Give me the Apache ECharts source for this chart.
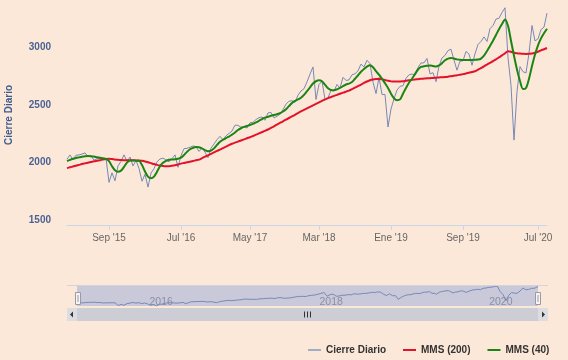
<!DOCTYPE html>
<html><head><meta charset="utf-8">
<script src="https://cdn.jsdelivr.net/npm/echarts@6/dist/echarts.min.js"></script>
<style>html,body{margin:0;padding:0;background:#fce8d8;}#c{width:568px;height:360px;}</style>
</head><body><div id="c"></div>
<script>
const categories = [
'2015-03-08','2015-03-20','2015-04-02','2015-04-15','2015-04-27','2015-05-10','2015-05-23','2015-06-04','2015-06-17','2015-06-30',
'2015-07-12','2015-07-25','2015-08-07','2015-08-19','2015-09-01','2015-09-14','2015-09-26','2015-10-09','2015-10-22','2015-11-03',
'2015-11-16','2015-11-29','2015-12-11','2015-12-24','2016-01-06','2016-01-18','2016-01-31','2016-02-13','2016-02-25','2016-03-09',
'2016-03-22','2016-04-03','2016-04-16','2016-04-29','2016-05-11','2016-05-24','2016-06-06','2016-06-18','2016-07-01','2016-07-14',
'2016-07-27','2016-08-10','2016-08-23','2016-09-05','2016-09-18','2016-10-02','2016-10-15','2016-10-28','2016-11-10','2016-11-23',
'2016-12-07','2016-12-20','2017-01-02','2017-01-15','2017-01-28','2017-02-11','2017-02-24','2017-03-09','2017-03-22','2017-04-05',
'2017-04-18','2017-05-01','2017-05-14','2017-05-27','2017-06-10','2017-06-23','2017-07-06','2017-07-19','2017-08-02','2017-08-15',
'2017-08-28','2017-09-10','2017-09-23','2017-10-07','2017-10-20','2017-11-02','2017-11-15','2017-11-28','2017-12-12','2017-12-25',
'2018-01-07','2018-01-20','2018-02-03','2018-02-16','2018-03-01','2018-03-14','2018-03-27','2018-04-08','2018-04-21','2018-05-04',
'2018-05-17','2018-05-29','2018-06-11','2018-06-24','2018-07-07','2018-07-19','2018-08-01','2018-08-14','2018-08-27','2018-09-08',
'2018-09-21','2018-10-04','2018-10-17','2018-10-29','2018-11-11','2018-11-24','2018-12-07','2018-12-19','2019-01-01','2019-01-11',
'2019-01-21','2019-01-31','2019-02-11','2019-02-21','2019-03-03','2019-03-13','2019-03-23','2019-04-02','2019-04-12','2019-04-22',
'2019-05-03','2019-05-13','2019-05-23','2019-06-02','2019-06-12','2019-06-22','2019-07-02','2019-07-12','2019-07-23','2019-08-02',
'2019-08-12','2019-08-22','2019-09-01','2019-09-13','2019-09-25','2019-10-07','2019-10-20','2019-11-01','2019-11-13','2019-11-25',
'2019-12-07','2019-12-19','2020-01-01','2020-01-13','2020-01-25','2020-02-06','2020-02-18','2020-03-01','2020-03-14','2020-03-26',
'2020-04-07','2020-04-19','2020-05-01','2020-05-13','2020-05-26','2020-06-07','2020-06-19','2020-07-01','2020-07-14','2020-07-28',
'2020-08-11'];

const cierre = [
2071,2108,2067,2106,2108,2116,2126,2095,2100,2063,
2076,2079,2078,2079,1870,1953,1884,2014,2052,2109,
2053,2090,2012,2061,1990,1880,1940,1829,1951,1989,
2049,2073,2081,2065,2048,2076,2109,2001,2103,2163,
2166,2175,2186,2180,2139,2168,2133,2085,2167,2204,
2241,2270,2239,2275,2295,2316,2367,2365,2349,2353,
2342,2388,2391,2416,2432,2438,2409,2473,2477,2430,
2444,2461,2502,2549,2575,2579,2565,2627,2664,2683,
2743,2810,2872,2590,2720,2749,2590,2604,2670,2663,
2720,2690,2782,2755,2760,2804,2813,2839,2897,2872,
2930,2901,2740,2641,2781,2633,2633,2351,2507,2596,
2671,2704,2709,2774,2804,2811,2801,2867,2907,2908,
2946,2812,2822,2744,2880,2950,2973,3014,3026,2932,
2844,2922,2926,3007,2984,2887,2986,3067,3094,3133,
3093,3205,3231,3288,3295,3345,3386,2954,2711,2237,
2659,2875,2831,2820,2992,3232,3098,3116,3197,3218,
3340];

const mms200 = [
1994,2001,2008,2015,2022,2029,2035,2041,2047,2053,
2058,2063,2068,2073,2076,2073,2069,2066,2064,2063,
2063,2062,2062,2061,2060,2057,2052,2045,2037,2029,
2022,2016,2012,2010,2011,2014,2019,2026,2033,2039,
2045,2050,2056,2062,2068,2080,2093,2105,2118,2130,
2143,2155,2168,2180,2193,2205,2215,2224,2234,2243,
2253,2262,2273,2284,2295,2306,2317,2329,2343,2357,
2372,2386,2400,2415,2429,2443,2457,2472,2486,2499,
2512,2525,2538,2551,2564,2577,2590,2602,2611,2621,
2630,2639,2649,2658,2667,2680,2693,2706,2719,2733,
2746,2757,2764,2767,2768,2765,2759,2752,2747,2745,
2745,2746,2748,2752,2756,2760,2763,2766,2769,2771,
2773,2775,2777,2779,2781,2783,2785,2788,2792,2796,
2800,2805,2810,2815,2821,2828,2835,2848,2862,2877,
2893,2908,2922,2938,2955,2972,2990,3008,3004,2997,
2991,2988,2986,2985,2986,2988,2995,3005,3016,3026,
3037];

const mms40 = [
2055,2065,2075,2082,2087,2092,2096,2098,2097,2094,
2088,2083,2079,2074,2055,2010,1975,1962,1972,2005,
2042,2060,2060,2058,2057,2020,1965,1920,1905,1920,
1962,2010,2040,2057,2066,2068,2070,2075,2085,2108,
2135,2158,2170,2177,2175,2166,2150,2140,2145,2165,
2195,2222,2240,2255,2268,2285,2303,2325,2340,2352,
2360,2368,2378,2390,2405,2420,2432,2440,2448,2455,
2462,2470,2485,2505,2532,2560,2578,2590,2605,2630,
2662,2695,2728,2748,2756,2748,2718,2688,2672,2670,
2678,2690,2705,2720,2728,2742,2770,2800,2830,2855,
2875,2887,2870,2835,2805,2770,2730,2690,2640,2600,
2583,2590,2640,2690,2735,2770,2810,2850,2872,2878,
2882,2885,2880,2875,2885,2905,2930,2945,2950,2945,
2938,2934,2932,2932,2933,2933,2934,2936,2945,2970,
3010,3055,3100,3150,3200,3245,3285,3230,3100,2970,
2850,2750,2680,2690,2770,2880,2980,3060,3120,3165,
3204];

const tickDates = ['2015-09-01','2016-07-01','2017-05-01','2018-03-01','2019-01-01','2019-09-01','2020-07-01'];
const tickLabels = ["Sep '15","Jul '16","May '17","Mar '18","Ene '19","Sep '19","Jul '20"];
const navYears = ['2016','2018','2020'];
const seriesNames = ['Cierre Diario','MMS (200)','MMS (40)'];

const C_CLOSE = '#7689b5', C_RED = '#e3122b', C_GREEN = '#1b8412';
const FONT = 'Liberation Sans, Arial, sans-serif';

const chart = echarts.init(document.getElementById('c'), null, {renderer:'canvas'});
const navData = categories.map((d, i) => [d, cierre[i]]);
const isTick = (i, v) => tickDates.indexOf(v) >= 0;

chart.setOption({
  backgroundColor: '#fce8d8',
  animation: false,
  textStyle: {fontFamily: FONT},
  grid: [
    {left: 67, right: 21, top: 5, height: 220, outerBoundsMode: 'none'},
    {left: 77, right: 30, top: 286, height: 20, show: true, backgroundColor: '#cac9da', borderWidth: 0, outerBoundsMode: 'none'}
  ],
  xAxis: [
    {type: 'category', gridIndex: 0, data: categories, boundaryGap: false,
     axisLine: {lineStyle: {color: '#ccd6eb'}},
     axisTick: {show: true, length: 5, interval: isTick, lineStyle: {color: '#ccd6eb'}},
     axisLabel: {interval: isTick, color: '#666', fontSize: 10, margin: 8, fontFamily: FONT,
       formatter: v => { const k = tickDates.indexOf(v); return k >= 0 ? tickLabels[k] : ''; }},
     splitLine: {show: false}},
    {type: 'time', gridIndex: 1, min: 'dataMin', max: 'dataMax',
     axisLine: {show: false}, axisTick: {show: false}, splitLine: {show: false},
     axisLabel: {color: '#8b8fa5', fontSize: 10.5, margin: -4, verticalAlign: 'middle', align: 'left',
       padding: [0, 0, 0, 3], fontFamily: FONT,
       formatter: v => { const d = new Date(v); const y = String(d.getFullYear());
         return (d.getMonth() === 0 && d.getDate() === 1 && navYears.indexOf(y) >= 0) ? y : ''; }}}
  ],
  yAxis: [
    {type: 'value', gridIndex: 0, min: 1500, max: 3410, interval: 500,
     name: 'Cierre Diario', nameLocation: 'middle', nameGap: 53, nameRotate: 90,
     nameTextStyle: {color: '#3e5b8f', fontWeight: 'bold', fontSize: 10, fontFamily: FONT},
     axisLine: {show: false}, axisTick: {show: false},
     axisLabel: {color: '#4a6294', fontWeight: 'bold', fontSize: 10, margin: 16, verticalAlign: 'bottom',
       lineHeight: 10, fontFamily: FONT, showMaxLabel: false,
       formatter: v => (v % 500 === 0 ? String(v) : '')},
     splitLine: {show: false}},
    {type: 'value', gridIndex: 1, min: 'dataMin', max: 'dataMax', show: false}
  ],
  legend: {
    left: 303, top: 340, itemWidth: 13, itemHeight: 2, itemGap: 17, icon: 'rect',
    textStyle: {fontWeight: 'bold', fontSize: 10, color: '#333', fontFamily: FONT},
    data: [{name: seriesNames[0], itemStyle: {color: '#a3acc6'}}, seriesNames[1], seriesNames[2]]
  },
  series: [
    {name: seriesNames[0], type: 'line', xAxisIndex: 0, yAxisIndex: 0, data: cierre, showSymbol: false,
     lineStyle: {width: 1, color: C_CLOSE}, itemStyle: {color: C_CLOSE}, z: 2},
    {name: seriesNames[1], type: 'line', xAxisIndex: 0, yAxisIndex: 0, data: mms200, showSymbol: false, smooth: 0.3,
     lineStyle: {width: 2, color: C_RED}, itemStyle: {color: C_RED}, z: 3},
    {name: seriesNames[2], type: 'line', xAxisIndex: 0, yAxisIndex: 0, data: mms40, showSymbol: false, smooth: 0.3,
     lineStyle: {width: 2, color: C_GREEN}, itemStyle: {color: C_GREEN}, z: 4},
    {name: 'nav', type: 'line', xAxisIndex: 1, yAxisIndex: 1, data: navData, showSymbol: false, silent: true,
     lineStyle: {width: 1, color: C_CLOSE}, itemStyle: {color: C_CLOSE}, z: 2}
  ],
  graphic: [
    {type: 'line', z: 50, shape: {x1: 67, y1: 285.5, x2: 548, y2: 285.5}, style: {stroke: '#d3d3dc', lineWidth: 1}},
    {type: 'rect', z: 50, shape: {x: 67, y: 308, width: 481, height: 13}, style: {fill: '#dcdce3'}},
    {type: 'rect', z: 51, shape: {x: 77, y: 308, width: 461, height: 13}, style: {fill: '#cdcdd6'}},
    {type: 'polygon', z: 52, shape: {points: [[73, 311.5], [73, 317.5], [70, 314.5]]}, style: {fill: '#333'}},
    {type: 'polygon', z: 52, shape: {points: [[542, 311.5], [542, 317.5], [545, 314.5]]}, style: {fill: '#333'}},
    {type: 'line', z: 52, shape: {x1: 304.5, y1: 311.5, x2: 304.5, y2: 317.5}, style: {stroke: '#333', lineWidth: 1}},
    {type: 'line', z: 52, shape: {x1: 307.5, y1: 311.5, x2: 307.5, y2: 317.5}, style: {stroke: '#333', lineWidth: 1}},
    {type: 'line', z: 52, shape: {x1: 310.5, y1: 311.5, x2: 310.5, y2: 317.5}, style: {stroke: '#333', lineWidth: 1}},
    {type: 'rect', z: 60, shape: {x: 75.5, y: 292.5, width: 5, height: 12}, style: {fill: '#f4f4f4', stroke: '#9a9aa6', lineWidth: 1}},
    {type: 'line', z: 61, shape: {x1: 78, y1: 295, x2: 78, y2: 302}, style: {stroke: '#9a9aa6', lineWidth: 1}},
    {type: 'rect', z: 60, shape: {x: 535.5, y: 292.5, width: 5, height: 12}, style: {fill: '#f4f4f4', stroke: '#9a9aa6', lineWidth: 1}},
    {type: 'line', z: 61, shape: {x1: 538, y1: 295, x2: 538, y2: 302}, style: {stroke: '#9a9aa6', lineWidth: 1}}
  ]
});
</script>
</body></html>
